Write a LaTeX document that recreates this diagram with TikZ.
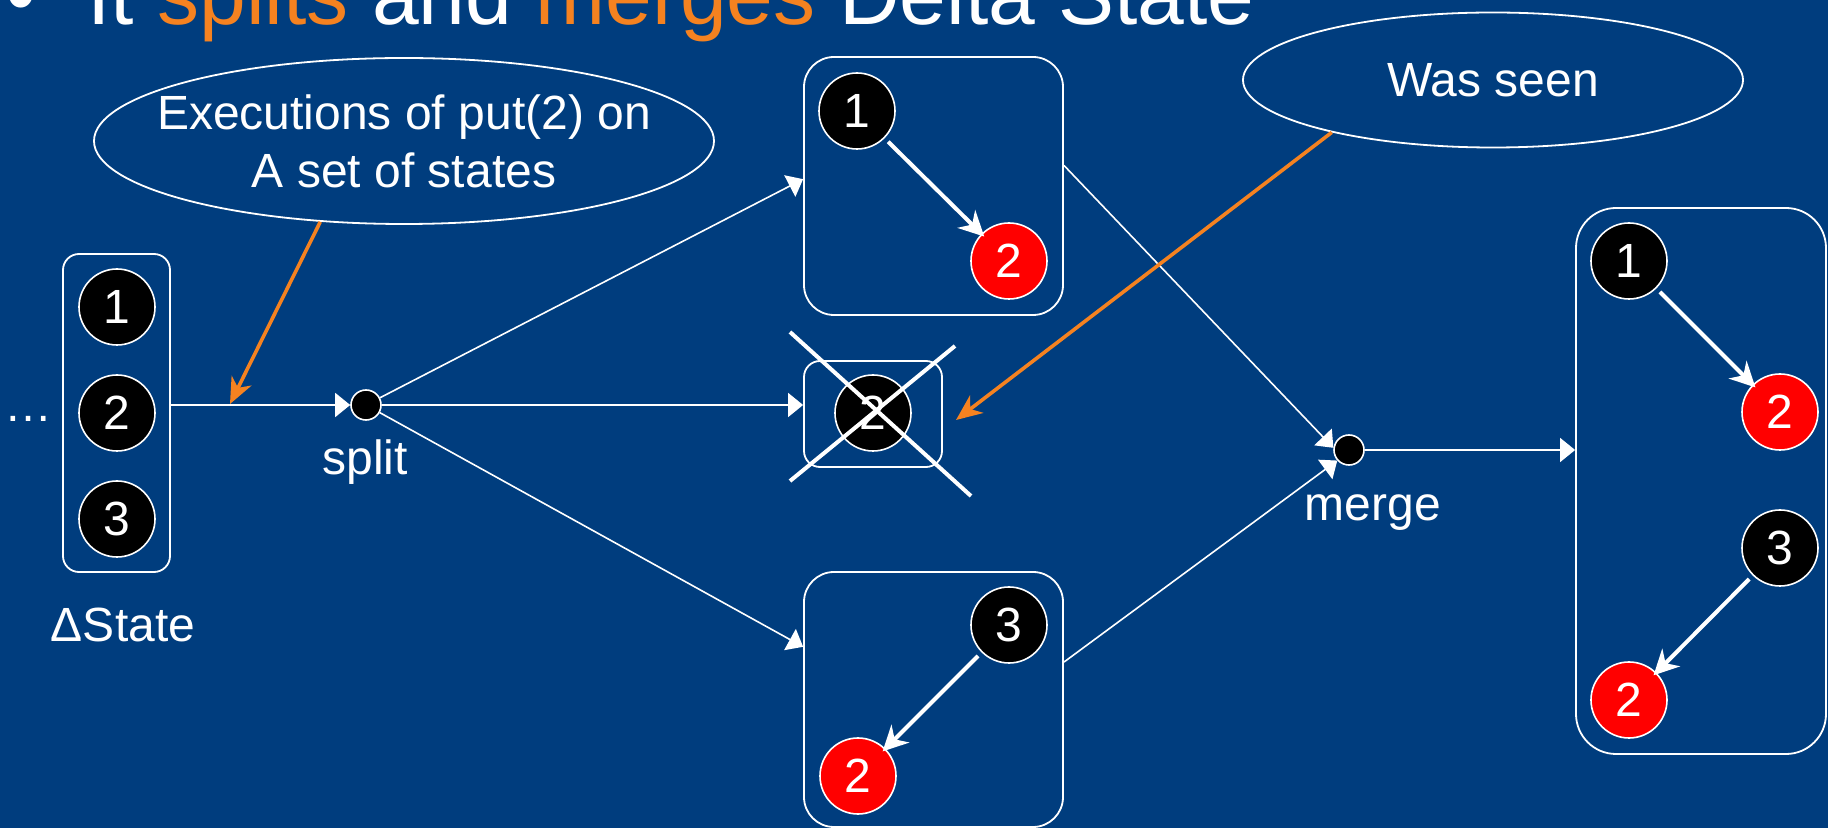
\documentclass[tikz,border=0pt]{standalone}
\usepackage{fontspec}
\setmainfont{Liberation Sans}
\usetikzlibrary{shapes.geometric,arrows.meta,calc}
\definecolor{slideblue}{RGB}{0,61,126}
\definecolor{hiorange}{RGB}{245,130,32}
\definecolor{keyred}{RGB}{255,0,0}
\begin{document}
\begin{tikzpicture}[x=0.5pt,y=-0.5pt,
  txt/.style={text=white,inner sep=0,font=\fontsize{24}{29}\selectfont},
  keycirc/.style={circle,draw=white,line width=0.8pt,minimum size=38pt,inner sep=0,
    text=white,font=\fontsize{24}{29}\selectfont},
  oldkey/.style={keycirc,fill=black},
  newkey/.style={keycirc,fill=keyred},
  statebox/.style={rectangle,draw=white,line width=0.9pt,inner sep=0},
  junction/.style={circle,draw=white,fill=black,line width=0.8pt,minimum size=15pt,inner sep=0},
  flow/.style={draw=white,line width=0.8pt,-{Triangle[length=7.5pt,width=12pt]}},
  keyarrow/.style={draw=white,line width=2pt,-{Stealth[length=12.5pt,width=12.5pt,inset=4pt]}},
  callout/.style={draw=hiorange,line width=1.8pt,-{Stealth[length=13pt,width=11pt,inset=4pt]}},
  note/.style={ellipse,draw=white,line width=0.9pt,inner sep=0},
  notetext/.style={txt,align=center}
]
\useasboundingbox (0,0) rectangle (1828,828);
\clip (0,0) rectangle (1828,828);
\fill[slideblue] (0,0) rectangle (1828,828);

% slide heading
\node[anchor=base west,inner sep=0,text=white,font=\fontsize{42}{50}\selectfont] (bullet) at (6,25) {•};
\node[anchor=base west,inner sep=0,text=white,font=\fontsize{42}{50}\selectfont] (title) at (87,25)
  {It \textcolor{hiorange}{splits} and \textcolor{hiorange}{merges} Delta State};

% incoming delta state
\node[txt,anchor=base west] (dots) at (4,422) {…};
\node[statebox,rounded corners=8pt,minimum width=53.5pt,minimum height=159pt] (lbox) at (116.5,413) {};
\node[oldkey] (l1) at (117,307) {1};
\node[oldkey] (l2) at (117,413) {2};
\node[oldkey] (l3) at (117,519) {3};
\node[txt,anchor=base] (dslabel) at (123,642) {ΔState};

% split and merge points
\node[junction] (split) at (366,405) {};
\node[txt,anchor=base] (splitlabel) at (365,475) {split};
\node[junction] (merge) at (1349,450) {};
\node[txt,anchor=base] (mergelabel) at (1373,521) {merge};

% partial states
\node[statebox,rounded corners=15pt,minimum width=129.5pt,minimum height=129pt] (topbox) at (933.5,186) {};
\node[oldkey] (t1) at (857,111) {1};
\node[newkey] (t2) at (1009,261) {2};

\node[statebox,rounded corners=8pt,minimum width=69pt,minimum height=53pt] (midbox) at (873,414) {};
\node[oldkey] (m2) at (873,413) {2};

\node[statebox,rounded corners=15pt,minimum width=129.5pt,minimum height=127.5pt] (botbox) at (933.5,699.5) {};
\node[oldkey] (b3) at (1009,625) {3};
\node[newkey] (b2) at (858,776) {2};

% merged result
\node[statebox,rounded corners=20pt,minimum width=125pt,minimum height=273pt] (finbox) at (1701,481) {};
\node[oldkey] (f1) at (1629,261) {1};
\node[newkey] (f2a) at (1780,412) {2};
\node[oldkey] (f3) at (1780,548) {3};
\node[newkey] (f2b) at (1629,700) {2};

% comment bubbles
\node[note,minimum width=310pt,minimum height=83pt] (ell1) at (404,141) {};
\node[notetext] (ell1text) at (ell1.center) {Executions of put(2) on\\A set of states};
\node[note,minimum width=250pt,minimum height=67.5pt] (ell2) at (1493,80) {};
\node[notetext] (ell2text) at (ell2.center) {Was seen};

% transitions inside states
\draw[keyarrow,shorten <=2.5pt,shorten >=-2pt] (t1) -- (t2);
\draw[keyarrow,shorten <=2.5pt,shorten >=-2pt] (b3) -- (b2);
\draw[keyarrow,shorten <=2.5pt,shorten >=-2pt] (f1) -- (f2a);
\draw[keyarrow,shorten <=2.5pt,shorten >=-2pt] (f3) -- (f2b);

% the dropped state is crossed out
\draw[white,line width=2pt] (790,332) -- (971,496);
\draw[white,line width=2pt] (955,346) -- (790,481);

% data flow
\draw[flow] (lbox.east |- split.west) -- (split.west);
\draw[flow] (split) -- (topbox.177);
\draw[flow] (split.east) -- (midbox.west |- split.east);
\draw[flow] (split) -- (botbox.158);
\draw[flow] (topbox.9) -- (merge.172);
\draw[flow] (botbox.16) -- (merge.222);
\draw[flow] (merge.east) -- (finbox.west |- merge.east);

% callout pointers
\coordinate (hitA) at (230,404);
\coordinate (hitB) at (956,420);
\draw[callout] (ell1.224) -- (hitA);
\draw[callout] (ell2.198) -- (hitB);
\end{tikzpicture}
\end{document}
